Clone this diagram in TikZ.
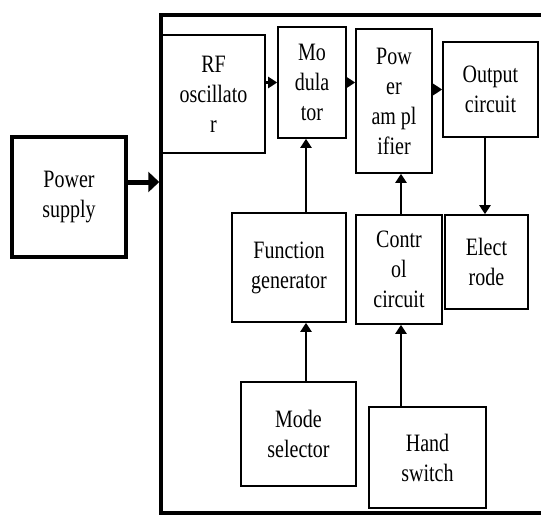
\documentclass[tikz,border=0pt]{standalone}
\usepackage{fontspec}
\setmainfont{Liberation Serif}[FakeStretch=0.8]
\usetikzlibrary{arrows.meta,positioning}
\begin{document}
\begin{tikzpicture}[x=1pt, y=-1pt, every node/.style={font=\fontsize{25}{30}\selectfont}, box/.style={draw,line width=1.6pt,align=center,inner sep=0pt}, arr/.style={-{Triangle[length=9pt,width=11pt]},line width=2.4pt}, bigarr/.style={-{Triangle[length=11pt,width=20pt]},line width=5pt}]
\useasboundingbox (0,0) rectangle (541,515);
\node[box,line width=3.5pt,minimum width=382pt,minimum height=498pt] (sys) at (352,264) {};
\node[box,line width=3.5pt,minimum width=114pt,minimum height=120pt] (ps) at (69,197) {Power\\supply};
\node[box,minimum width=103pt,minimum height=118pt] (rf) at (213.5,94) {RF\\oscillato\\r};
\node[box,minimum width=68pt,minimum height=111pt] (mod) at (312,82.5) {Mo\\dula\\tor};
\node[box,minimum width=76pt,minimum height=144pt] (pa) at (394,101) {Pow\\er\\am pl\\ifier};
\node[box,minimum width=95pt,minimum height=95pt] (out) at (490.5,89.5) {Output\\circuit};
\node[box,minimum width=114pt,minimum height=109pt] (fg) at (289,267.5) {Function\\generator};
\node[box,minimum width=86pt,minimum height=109pt] (cc) at (399,269.5) {Contr\\ol\\circuit};
\node[box,minimum width=83pt,minimum height=94pt] (el) at (486.5,262) {Elect\\rode};
\node[box,minimum width=115pt,minimum height=104pt] (ms) at (298.5,434) {Mode\\selector};
\node[box,minimum width=117pt,minimum height=101pt] (hs) at (427.5,457.5) {Hand\\switch};
\coordinate (colA) at (306,0);
\coordinate (colB) at (401,0);
\coordinate (colC) at (485,0);
\draw[bigarr] ([yshift=15pt]ps.east) -- ([yshift=15pt]ps.east -| sys.west);
\draw[arr] (rf.east |- mod.west) -- (mod.west);
\draw[arr] (mod.east) -- (mod.east -| pa.west);
\draw[arr] (pa.east |- out.west) -- (out.west);
\draw[arr] (fg.north -| colA) -- (mod.south -| colA);
\draw[arr] (ms.north -| colA) -- (fg.south -| colA);
\draw[arr] (cc.north -| colB) -- (pa.south -| colB);
\draw[arr] (hs.north -| colB) -- (cc.south -| colB);
\draw[arr] (out.south -| colC) -- (el.north -| colC);
\end{tikzpicture}
\end{document}
